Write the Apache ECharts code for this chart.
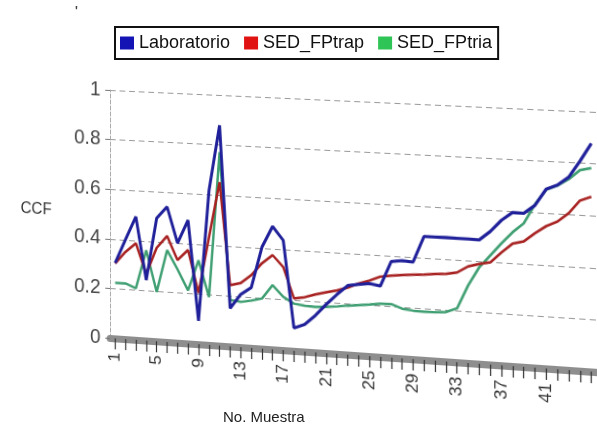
<!DOCTYPE html>
<html>
<head>
<meta charset="utf-8">
<script src="https://cdn.jsdelivr.net/npm/echarts@6/dist/echarts.min.js"></script>
<style>
html,body{margin:0;padding:0;background:#fff;overflow:hidden;width:597px;height:425px;}
#main{position:absolute;left:0;top:0;width:597px;height:425px;transform-origin:0 0;
  transform:matrix3d(0.943421,0.034560,0,-0.000094772, 0,1,0,0, 0,0,1,0, 6.2237,-3.8016,0,1.0104249);}
#over{position:absolute;left:0;top:0;width:597px;height:425px;pointer-events:none;}
</style>
</head>
<body>
<div id="main"></div>
<div id="over"></div>
<script>
// ---- data ----
const categories = ['1','2','3','4','5','6','7','8','9','10','11','12','13','14','15','16','17','18','19','20',
  '21','22','23','24','25','26','27','28','29','30','31','32','33','34','35','36','37','38','39','40',
  '41','42','43','44','45'];
const xTickLabels = ['1','5','9','13','17','21','25','29','33','37','41'];
const seriesNames = ['Laboratorio', 'SED_FPtrap', 'SED_FPtria'];
const laboratorio = [0.304,0.401,0.495,0.243,0.494,0.542,0.399,0.493,0.093,0.617,
  0.879,0.152,0.210,0.240,0.403,0.488,0.435,0.090,0.107,0.146,
  0.192,0.234,0.272,0.279,0.285,0.278,0.377,0.383,0.380,0.483,
  0.483,0.484,0.483,0.483,0.482,0.517,0.563,0.596,0.595,0.628,
  0.693,0.711,0.744,0.808,0.878];
const sedFPtrap = [0.302,0.351,0.388,0.267,0.375,0.425,0.331,0.374,0.205,0.430,
  0.652,0.244,0.255,0.289,0.339,0.374,0.329,0.208,0.215,0.229,
  0.240,0.250,0.264,0.283,0.297,0.315,0.322,0.327,0.331,0.334,
  0.339,0.342,0.350,0.376,0.388,0.397,0.438,0.475,0.486,0.520,
  0.550,0.570,0.605,0.656,0.673];
const sedFPtria = [0.224,0.224,0.207,0.363,0.198,0.368,0.294,0.212,0.335,0.191,
  0.772,0.185,0.180,0.188,0.199,0.255,0.211,0.187,0.181,0.179,
  0.182,0.187,0.193,0.198,0.203,0.209,0.210,0.195,0.190,0.189,
  0.190,0.193,0.210,0.302,0.375,0.424,0.473,0.519,0.556,0.632,
  0.691,0.709,0.736,0.773,0.783];
const yTicks = { min: 0, max: 1, interval: 0.2 };
const xAxisName = 'No. Muestra';
const yAxisName = 'CCF';

// ---- styles ----
const lineColors = ['#20209a', '#a82222', '#3f9f72'];
const legendColors = ['#1414b4', '#e01212', '#2fc456'];
const FONT = 'Liberation Sans';

// ---- main (plot) chart ----
const main = echarts.init(document.getElementById('main'), null, { renderer: 'canvas' });
main.setOption({
  animation: false,
  backgroundColor: '#ffffff',
  grid: { left: 110, right: 0, top: 90, bottom: 87 },
  xAxis: {
    type: 'category',
    data: categories,
    boundaryGap: true,
    axisLine: { lineStyle: { color: '#8e8e8e', width: 7 } },
    axisTick: { show: true, alignWithLabel: true, interval: 0, length: 11, lineStyle: { color: '#333', width: 1.2 } },
    axisLabel: {
      interval: (idx, val) => xTickLabels.indexOf(val) >= 0,
      rotate: 90, margin: 14, fontSize: 17, color: '#333', fontFamily: FONT
    },
    splitLine: { show: false }
  },
  yAxis: {
    type: 'value',
    min: yTicks.min, max: yTicks.max, interval: yTicks.interval,
    name: yAxisName,
    nameLocation: 'middle',
    nameRotate: 0,
    nameGap: 78,
    nameTextStyle: { fontSize: 16, color: '#333', align: 'center', fontFamily: FONT },
    axisLine: { show: true, lineStyle: { color: '#aaa', type: 'dashed' } },
    axisTick: { show: true, length: 5, lineStyle: { color: '#777' } },
    axisLabel: { fontSize: 20, color: '#444', margin: 10, fontFamily: FONT },
    splitLine: { lineStyle: { color: '#9a9a9a', type: [6, 4], width: 1 } }
  },
  series: [
    { name: seriesNames[2], type: 'line', data: sedFPtria, symbol: 'none',
      lineStyle: { color: lineColors[2], width: 2.5 }, itemStyle: { color: lineColors[2] } },
    { name: seriesNames[1], type: 'line', data: sedFPtrap, symbol: 'none',
      lineStyle: { color: lineColors[1], width: 2.5 }, itemStyle: { color: lineColors[1] } },
    { name: seriesNames[0], type: 'line', data: laboratorio, symbol: 'none',
      lineStyle: { color: lineColors[0], width: 3 }, itemStyle: { color: lineColors[0] } }
  ]
});

// ---- overlay: legend and x axis title (not in perspective) ----
const over = echarts.init(document.getElementById('over'), null, { renderer: 'canvas' });
over.setOption({
  animation: false,
  title: [
    { text: xAxisName, left: 223, top: 410, padding: 0,
      textStyle: { fontSize: 15, fontWeight: 'normal', color: '#222', fontFamily: FONT } },
    { text: "'", left: 75, top: 6, padding: 0,
      textStyle: { fontSize: 12, fontWeight: 'bold', color: '#444', fontFamily: FONT } }
  ],
  legend: {
    data: seriesNames,
    left: 115, top: 27,
    icon: 'rect',
    itemWidth: 14, itemHeight: 13, itemGap: 14,
    padding: [7, 6, 7, 5],
    borderColor: '#111', borderWidth: 2, backgroundColor: '#fff',
    textStyle: { fontSize: 18, color: '#111', fontFamily: FONT }
  },
  grid: { left: 0, right: 0, top: 0, bottom: 0, show: false },
  xAxis: { type: 'category', show: false, data: [] },
  yAxis: { type: 'value', show: false },
  series: seriesNames.map((n, i) => ({ name: n, type: 'line', data: [], itemStyle: { color: legendColors[i] } }))
});
</script>
</body>
</html>
